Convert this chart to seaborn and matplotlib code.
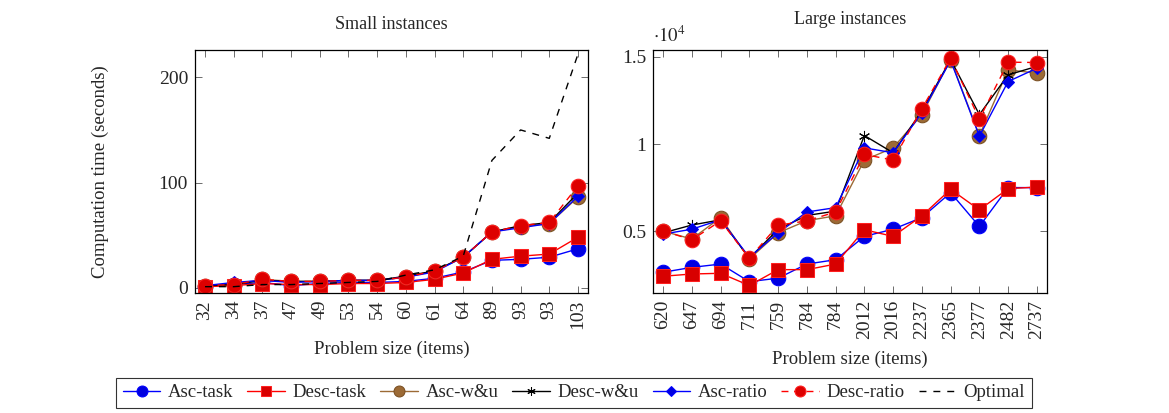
import matplotlib
matplotlib.use("Agg")
import matplotlib.pyplot as plt
import numpy as np
import pandas as pd
import seaborn as sns

# small instances
small_sizes = ['32', '34', '37', '47', '49', '53', '54', '60', '61', '64', '89', '93', '93', '103']
small_asc_task = [1, 3, 5, 2, 4, 5, 5, 6, 9, 15, 26, 27, 29, 37]
small_desc_task = [1, 2, 4, 3, 3, 4, 4, 5, 8, 14, 27, 30, 32, 48]
small_asc_wu = [2, 3, 8, 6, 6, 7, 7, 10, 16, 29, 53, 58, 61, 86]
small_desc_wu = [2, 3, 7, 6, 6, 7, 7, 11, 16, 29, 53, 59, 62, 90]
small_asc_ratio = [2, 5, 7, 5, 6, 7, 7, 10, 15, 29, 53, 57, 61, 87]
small_desc_ratio = [2, 3, 8, 6, 6, 7, 7, 10, 16, 29, 53, 59, 62, 97]
small_optimal = [1, 1, 3, 3, 4, 5, 6, 12, 17, 30, 121, 150, 142, 222]

# large instances
large_sizes = ['620', '647', '694', '711', '759', '784', '784', '2012', '2016', '2237',
               '2365', '2377', '2482', '2737']
large_asc_task = [2640, 2920, 3110, 2100, 2300, 3110, 3360, 4700, 5110, 5780, 7210, 5270, 7500, 7500]
large_desc_task = [2410, 2540, 2580, 1880, 2790, 2790, 3110, 5080, 4700, 5880, 7400, 6220, 7440, 7530]
large_asc_wu = [5000, 4550, 5780, 3400, 4900, 5600, 5880, 9080, 9780, 11690, 14850, 10490, 14260, 14070]
large_desc_wu = [4900, 5350, 5650, 3450, 5100, 5900, 6150, 10490, 9500, 11900, 14850, 11690, 13970, 14460]
large_asc_ratio = [4830, 5110, 5650, 3500, 4900, 6100, 6350, 9780, 9500, 11800, 14800, 10450, 13590, 14350]
large_desc_ratio = [5020, 4500, 5590, 3440, 5340, 5590, 6100, 9400, 9080, 12030, 14920, 11440, 14700, 14680]

BROWN = '#9c6a35'

styles = {
    'Asc-task': dict(color='#0000ff', marker='o', markersize=10.5, ls='-', mfc='#0000e0', mec='#0000ff'),
    'Desc-task': dict(color='#ff0000', marker='s', markersize=9.5, ls='-', mfc='#d80000', mec='#ff2020'),
    'Asc-w&u': dict(color=BROWN, marker='o', markersize=10.5, ls='-', mfc=BROWN, mec='#7a4f22'),
    'Desc-w&u': dict(color='black', marker=(6, 2, 0), markersize=8, ls='-', mfc='black', mec='black'),
    'Asc-ratio': dict(color='#0000ff', marker='D', markersize=6.5, ls='-', mfc='#0000e0', mec='#0000ff'),
    'Desc-ratio': dict(color='#ff0000', marker='o', markersize=10.5, ls=(0, (5, 4)), mfc='#dd0000', mec='#ff2020'),
    'Optimal': dict(color='black', marker=None, ls=(0, (5, 5))),
}

sns.set_style("ticks")
plt.rcParams['font.family'] = ['Liberation Serif', 'DejaVu Serif']
plt.rcParams['mathtext.fontset'] = 'stix'

fig = plt.figure(figsize=(11.69, 4.13), dpi=100)
ax1 = fig.add_axes([0.1668, 0.2906, 0.3362, 0.5884])
ax2 = fig.add_axes([0.5586, 0.2906, 0.3370, 0.5884])

small = {
    'Asc-task': small_asc_task, 'Desc-task': small_desc_task, 'Asc-w&u': small_asc_wu,
    'Desc-w&u': small_desc_wu, 'Asc-ratio': small_asc_ratio, 'Desc-ratio': small_desc_ratio,
    'Optimal': small_optimal,
}
large = {
    'Asc-task': large_asc_task, 'Desc-task': large_desc_task, 'Asc-w&u': large_asc_wu,
    'Desc-w&u': large_desc_wu, 'Asc-ratio': large_asc_ratio, 'Desc-ratio': large_desc_ratio,
}


def draw(ax, series, labels):
    idx = np.arange(len(labels))
    for name, vals in series.items():
        df = pd.DataFrame({'x': idx, 'y': vals})
        st = dict(styles[name])
        ls = st.pop('ls')
        sns.lineplot(data=df, x='x', y='y', ax=ax, label=name, linestyle=ls,
                     linewidth=1.0, estimator=None, sort=False, legend=False, **st)
    ax.set_xticks(idx)
    ax.set_xticklabels(labels, rotation=90, fontsize=14)
    ax.tick_params(direction='in', top=True, right=True, length=5, width=0.6,
                   color='#555555', pad=5)
    ax.tick_params(axis='y', labelsize=14)
    for sp in ax.spines.values():
        sp.set_linewidth(0.9)
        sp.set_color('black')
    ax.set_xlabel('Problem size (items)', fontsize=13.5, labelpad=8)
    ax.set_ylabel('')


draw(ax1, small, small_sizes)
ax1.set_xlim(-0.35, 13.35)
ax1.set_ylim(-5, 226)
ax1.set_yticks([0, 100, 200])
ax1.set_ylabel('Computation time (seconds)', fontsize=13.5)
ax1.yaxis.set_label_coords(-0.22, 0.5)
ax1.set_title('Small instances', fontsize=13, pad=15)

draw(ax2, large, large_sizes)
ax2.set_xlim(-0.35, 13.35)
ax2.set_ylim(1450, 15400)
ax2.set_yticks([5000, 10000, 15000])
ax2.set_yticklabels(['0.5', '1', '1.5'])
ax2.set_title('Large instances', fontsize=13, pad=19)
ax2.text(0.0, 1.015, r'$\cdot10^4$', transform=ax2.transAxes, fontsize=13.5,
         ha='left', va='bottom')

handles, labs = ax1.get_legend_handles_labels()
leg = fig.legend(handles, labs, loc='lower center', bbox_to_anchor=(0.491, 0.012), ncol=7,
                 fontsize=13.5, frameon=True, fancybox=False, edgecolor='black',
                 handlelength=2.0, handletextpad=0.4, columnspacing=0.75, borderpad=0.35,
                 borderaxespad=0, markerscale=0.75)
leg.get_frame().set_linewidth(0.8)

fig.savefig('out.png', dpi=100)
